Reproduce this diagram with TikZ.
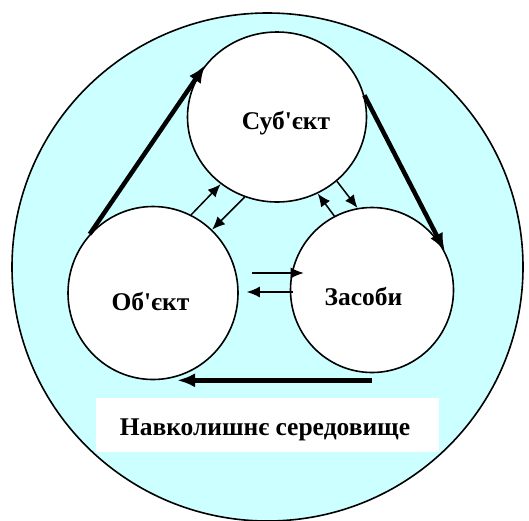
\documentclass[tikz,border=0pt]{standalone}
\usepackage{fontspec}
\setmainfont{Liberation Serif}
\usetikzlibrary{arrows.meta,calc,shapes.geometric}
\definecolor{envcyan}{HTML}{CCFFFF}
\begin{document}
\begin{tikzpicture}[x=1pt,y=-1pt,
  blob/.style={ellipse,draw,line width=1.6pt,fill=white,inner sep=0pt},
  lbl/.style={font=\bfseries\fontsize{25.5}{30}\selectfont,anchor=base,inner sep=0pt},
  minor/.style={line width=1.5pt,-{Latex[length=13pt,width=11pt]}},
  major/.style={line width=4.5pt,-{Latex[length=18pt,width=14pt]}}]
\useasboundingbox (0,0) rectangle (529,520);
\node[ellipse,draw,line width=1.6pt,fill=envcyan,minimum width=511pt,minimum height=508pt,inner sep=0pt] (env) at (267.5,267) {};
\node[blob,minimum width=179pt,minimum height=170pt] (subj) at (277,117) {};
\node[blob,minimum width=170pt,minimum height=173pt] (obj) at (153,293) {};
\node[blob,minimum width=163pt,minimum height=165pt] (zas) at (372,290) {};
\node[lbl] (tsubj) at (286,129) {Суб\textquotesingle єкт};
\node[lbl] (tobj) at (150.5,310) {Об\textquotesingle єкт};
\node[lbl] (tzas) at (363.5,305) {Засоби};
\node[fill=white,minimum width=343pt,minimum height=54pt,inner sep=0pt] (box) at (267.5,425) {};
\node[lbl] (tenv) at (265,435) {Навколишнє середовище};
\draw[major] (obj.137) -- (subj.144);
\draw[major] (subj.14.5) -- (zas.28.5);
\draw[major] (zas.south |- obj.south) -- ($(obj.south)+(24,0)$);
\draw[minor] (obj.64) -- (subj.230);
\draw[minor] (subj.248) -- (obj.47);
\draw[minor] (zas.117) -- (subj.-62);
\draw[minor] (subj.-47) -- (zas.100);
\draw[minor] ($(obj.east)+(13,-20)$) -- ($(zas.west)+(14,-17)$);
\draw[minor] ($(zas.west)+(3.5,2)$) -- ($(obj.east)+(8,-1)$);
\end{tikzpicture}
\end{document}
